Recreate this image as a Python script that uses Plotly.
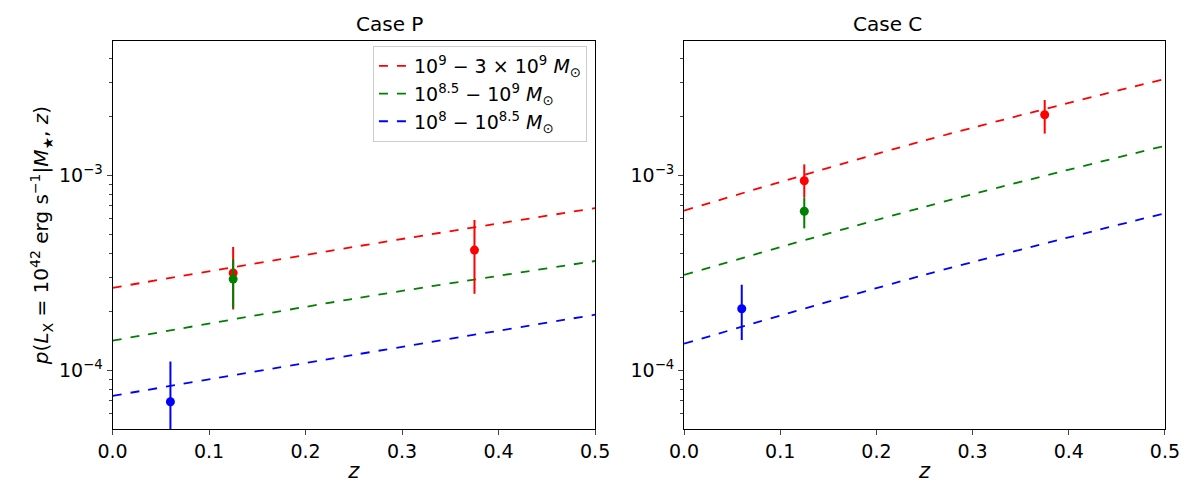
import plotly.graph_objects as go

# model curves
z_line = [0.0, 0.25, 0.5]
p_red = [2.65e-4, 4.3e-4, 6.8e-4]
p_green = [1.42e-4, 2.33e-4, 3.64e-4]
p_blue = [7.4e-5, 1.2e-4, 1.93e-4]
c_red = [6.6e-4, 1.51e-3, 3.13e-3]
c_green = [3.09e-4, 6.9e-4, 1.42e-3]
c_blue = [1.37e-4, 3.09e-4, 6.4e-4]

# data points: z, value, upper, lower
p_pts = {
    "red": ([0.125, 0.375], [3.16e-4, 4.14e-4], [4.3e-4, 5.9e-4], [2.05e-4, 2.47e-4]),
    "green": ([0.125], [2.94e-4], [3.7e-4], [2.08e-4]),
    "blue": ([0.06], [6.9e-5], [1.11e-4], [4.5e-5]),
}
c_pts = {
    "red": ([0.125, 0.375], [9.4e-4, 2.05e-3], [1.14e-3, 2.44e-3], [7.7e-4, 1.64e-3]),
    "green": ([0.125], [6.55e-4], [7.7e-4], [5.35e-4]),
    "blue": ([0.06], [2.07e-4], [2.75e-4], [1.43e-4]),
}
labels = {
    "red": "10<sup>9</sup> − 3 × 10<sup>9</sup> <i>M</i><sub>⊙</sub>",
    "green": "10<sup>8.5</sup> − 10<sup>9</sup> <i>M</i><sub>⊙</sub>",
    "blue": "10<sup>8</sup> − 10<sup>8.5</sup> <i>M</i><sub>⊙</sub>",
}
cols = {"red": "#ff0000", "green": "#008000", "blue": "#0000ff"}

fig = go.Figure()
for ax, lines, pts in [("", (p_red, p_green, p_blue), p_pts), ("2", (c_red, c_green, c_blue), c_pts)]:
    for name, yl in zip(["red", "green", "blue"], lines):
        fig.add_trace(go.Scatter(x=z_line, y=yl, mode="lines", line=dict(color=cols[name], dash="dash", width=1.8, shape="spline"),
                                 name=labels[name], showlegend=(ax == ""), xaxis="x" + ax, yaxis="y" + ax))
    for name, (zz, v, up, lo) in pts.items():
        fig.add_trace(go.Scatter(x=zz, y=v, mode="markers", marker=dict(color=cols[name], size=9),
                                 error_y=dict(type="data", array=[u - a for u, a in zip(up, v)],
                                              arrayminus=[a - l for a, l in zip(v, lo)], color=cols[name], width=0, thickness=2),
                                 showlegend=False, xaxis="x" + ax, yaxis="y" + ax))

xcommon = dict(range=[0, 0.5], dtick=0.1, tickformat=".1f", ticks="outside", showline=True, mirror=True,
               linecolor="black", showgrid=False, zeroline=False, tickfont=dict(size=19),
               title=dict(text="<i>z</i>", font=dict(size=21), standoff=2))
ycommon = dict(type="log", range=[-4.301, -2.31], tickvals=[1e-4, 1e-3], ticktext=["10<sup>−4</sup>", "10<sup>−3</sup>"],
               ticks="outside", showline=True, mirror=True, linecolor="black", showgrid=False, tickfont=dict(size=19),
               minor=dict(ticks="outside", ticklen=3, showgrid=False, tickvals=[6e-5, 7e-5, 8e-5, 9e-5, 2e-4, 3e-4, 4e-4, 5e-4, 6e-4, 7e-4, 8e-4, 9e-4, 2e-3, 3e-3, 4e-3]))

fig.update_layout(
    width=1200, height=500, margin=dict(l=0, r=0, t=0, b=0),
    plot_bgcolor="white", paper_bgcolor="white",
    font=dict(family="DejaVu Sans", color="black"),
    xaxis=dict(domain=[0.0765, 0.489], anchor="y", **xcommon),
    xaxis2=dict(domain=[0.565, 0.976], anchor="y2", **xcommon),
    yaxis=dict(domain=[0.158, 0.934], anchor="x",
               title=dict(text="<i>p</i>(<i>L</i><sub>X</sub> = 10<sup>42</sup> erg s<sup>−1</sup>|<i>M</i><sub>★</sub>, <i>z</i>)",
                          font=dict(size=20), standoff=4), **ycommon),
    yaxis2=dict(domain=[0.158, 0.934], anchor="x2", **ycommon),
    legend=dict(x=0.482, y=0.924, xanchor="right", yanchor="top", bordercolor="#cccccc", borderwidth=1,
                bgcolor="rgba(255,255,255,0.8)", font=dict(size=19)),
    annotations=[
        dict(text="Case P", x=0.283, y=0.94, xref="paper", yref="paper", showarrow=False, yanchor="bottom", font=dict(size=20)),
        dict(text="Case C", x=0.77, y=0.94, xref="paper", yref="paper", showarrow=False, yanchor="bottom", font=dict(size=20)),
    ],
)
fig.write_html("out.html")
